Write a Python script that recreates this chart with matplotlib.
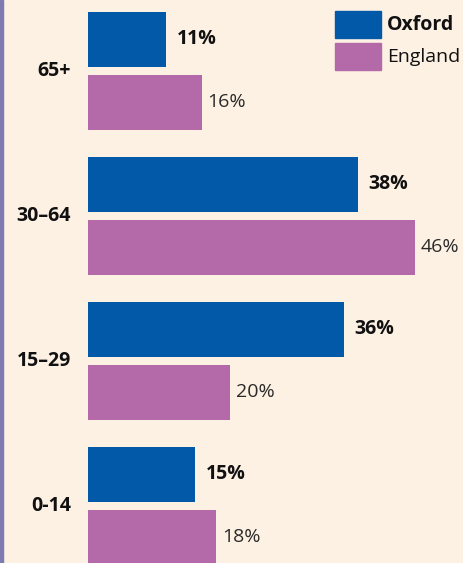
import matplotlib.pyplot as plt
from matplotlib.patches import Rectangle

ages = ["65+", "30–64", "15–29", "0-14"]
oxford = [11, 38, 36, 15]
england = [16, 46, 20, 18]

BLUE = "#0259a8"
PURPLE = "#b46aa8"
BG = "#fdf1e4"

plt.rcParams['font.family'] = ['Open Sans', 'DejaVu Sans']

W, H = 464, 563
fig = plt.figure(figsize=(W / 100, H / 100), dpi=100, facecolor=BG)
ax = fig.add_axes([0, 0, 1, 1])
ax.set_facecolor(BG)

# pixel-based scale so bars land where they do in the original
px_per_pct = 7.1
x0 = 88
ax.set_xlim(-x0 / px_per_pct, (W - x0) / px_per_pct)
group_px = 145
ax.set_ylim((H - 71) / group_px, -71 / group_px)

ypos = list(range(len(ages)))
bh = 55 / group_px
off = 31.5 / group_px
ax.barh([y - off for y in ypos], oxford, height=bh, color=BLUE)
ax.barh([y + off for y in ypos], england, height=bh, color=PURPLE)

for y, age, o, e in zip(ypos, ages, oxford, england):
    ax.text(o + 11 / px_per_pct, y - off, f"{o}%", va="center", ha="left",
            fontsize=14, fontweight="bold", color="#111111")
    ax.text(e + 6 / px_per_pct, y + off, f"{e}%", va="center", ha="left",
            fontsize=14, color="#2a2a2a")
    ax.text(71 / W, y, age, transform=ax.get_yaxis_transform(),
            va="center", ha="right", fontsize=14, fontweight="bold",
            color="#111111")

for s in ax.spines.values():
    s.set_visible(False)
ax.set_xticks([])
ax.set_yticks([])

# left rule
fig.patches.append(Rectangle((0, 0), 3 / W, 1, transform=fig.transFigure,
                             color="#7d7bb0", zorder=5))

# legend
for i, (name, col, wt) in enumerate([("Oxford", BLUE, "bold"),
                                     ("England", PURPLE, "normal")]):
    top = 11 + i * 32
    fig.patches.append(Rectangle((335 / W, 1 - (top + 27) / H), 46 / W, 27 / H,
                                 transform=fig.transFigure, color=col))
    fig.text(387 / W, 1 - (top + 13.5) / H, name, va="center", ha="left",
             fontsize=14, fontweight=wt, color="#111111")

fig.savefig("out.png", dpi=100, facecolor=BG)
